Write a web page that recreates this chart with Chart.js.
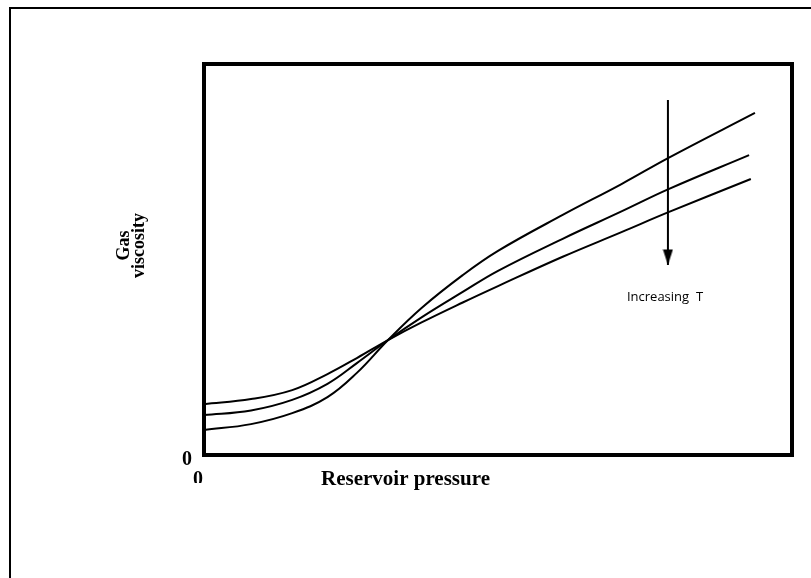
<!DOCTYPE html>
<html>
<head>
<meta charset="utf-8">
<script src="https://cdn.jsdelivr.net/npm/chart.js@4/dist/chart.umd.min.js"></script>
<style>
  html, body { margin: 0; padding: 0; background: #fff; }
  canvas { display: block; }
</style>
</head>
<body>
<canvas id="chart" width="811" height="578"></canvas>
<script>
// Reservoir pressure (arbitrary units, 0-100) shared by the three curves
const pressure = [0, 8, 15, 21, 26, 31.3, 37, 44, 50, 61, 71, 79];
// last pressure reached by each curve: high T, mid T, low T
const endPressure = [93.0, 92.7, 93.7];

// Gas viscosity (arbitrary units, 0-100) for three temperatures
const viscosityHighT = [13.0, 14.3, 16.6, 20.7, 24.8, 29.4, 33.9, 39.0, 43.2, 50.7, 57.0, 62.1, 70.6];
const viscosityMidT  = [10.2, 11.4, 14.1, 18.2, 23.5, 29.4, 35.2, 41.7, 47.1, 55.3, 62.3, 68.0, 76.7];
const viscosityLowT  = [6.4, 7.9, 10.7, 14.8, 21.0, 29.4, 37.6, 46.0, 52.2, 61.4, 69.3, 76.0, 87.5];

// Axis ticks
const xTickValues = [0];
const xTickLabels = ['0'];
const yTickValues = [0];
const yTickLabels = ['0'];

// Titles
const xTitle = 'Reservoir pressure';
const yTitle = ['Gas', 'viscosity'];

// Temperature arrow
const arrowPressure = 78.9;
const arrowFrom = 90.8;
const arrowTo = 48.6;
const arrowLabel = 'Increasing  T';
const arrowLabelPressure = 78.4;
const arrowLabelViscosity = 40.4;

function curvePoints(values, lastX) {
  return values.map((v, i) => ({ x: i < pressure.length ? pressure[i] : lastX, y: v }));
}

// Filled arrowhead; the tip sits at the centre of the image
function makeArrowHead() {
  const cv = document.createElement('canvas');
  cv.width = 11;
  cv.height = 32;
  const g = cv.getContext('2d');
  g.fillStyle = '#000';
  g.beginPath();
  g.moveTo(0.5, 0.5);
  g.lineTo(10.5, 0.5);
  g.lineTo(5.5, 16);
  g.closePath();
  g.fill();
  return cv;
}
const arrowHead = makeArrowHead();

const SERIF = '"Liberation Serif", "Times New Roman", serif';
const serifBold = (size) => ({ family: SERIF, size: size, weight: 'bold' });

const curveStyle = {
  showLine: true,
  borderColor: '#000',
  borderWidth: 2,
  pointRadius: 0,
  tension: 0.4,
  fill: false
};

// Page frame, thick plot box, vertical axis title and the arrow caption
const framePlugin = {
  id: 'frame',
  beforeDraw(chart) {
    const c = chart.ctx;
    c.save();
    c.strokeStyle = '#000';
    c.lineWidth = 2;
    c.beginPath();
    c.moveTo(10, chart.height);
    c.lineTo(10, 8);
    c.lineTo(chart.width, 8);
    c.stroke();
    c.restore();
  },
  afterDatasetsDraw(chart) {
    const c = chart.ctx;
    const { left, top, right, bottom } = chart.chartArea;
    c.save();
    c.strokeStyle = '#000';
    c.lineWidth = 4;
    c.strokeRect(left, top, right - left, bottom - top);

    const xs = chart.scales.x, ys = chart.scales.y;
    c.fillStyle = '#000';
    c.font = '13px "Open Sans", sans-serif';
    c.textAlign = 'center';
    c.textBaseline = 'middle';
    c.fillText(arrowLabel, xs.getPixelForValue(arrowLabelPressure), ys.getPixelForValue(arrowLabelViscosity));

    // two-line rotated title left of the plot
    c.translate(left - 80, (top + bottom) / 2 - 14);
    c.rotate(-Math.PI / 2);
    c.font = 'bold 18px ' + SERIF;
    yTitle.forEach((line, i) => c.fillText(line, 0, i * 15));
    c.restore();
  }
};

new Chart(document.getElementById('chart'), {
  type: 'scatter',
  data: {
    datasets: [
      Object.assign({ label: 'High T', data: curvePoints(viscosityHighT, endPressure[0]) }, curveStyle),
      Object.assign({ label: 'Mid T', data: curvePoints(viscosityMidT, endPressure[1]) }, curveStyle),
      Object.assign({ label: 'Low T', data: curvePoints(viscosityLowT, endPressure[2]) }, curveStyle),
      {
        label: 'Temperature',
        data: [{ x: arrowPressure, y: arrowFrom }, { x: arrowPressure, y: arrowTo }],
        showLine: true,
        borderColor: '#000',
        borderWidth: 2,
        pointRadius: [0, 3],
        pointStyle: (ctx) => ctx.dataIndex === 1 ? arrowHead : 'circle',
        clip: false
      }
    ]
  },
  options: {
    responsive: false,
    animation: false,
    devicePixelRatio: 1,
    layout: { padding: { left: 0, right: 0, top: 64, bottom: 85.4 } },
    plugins: {
      legend: { display: false },
      tooltip: { enabled: false },
      title: {
        display: true,
        position: 'bottom',
        text: xTitle,
        color: '#000',
        font: serifBold(21),
        padding: { top: -15.6, bottom: 0 }
      }
    },
    scales: {
      x: {
        type: 'linear',
        min: 0,
        max: 100,
        grid: { display: false, drawTicks: false },
        border: { display: false },
        afterBuildTicks: (s) => { s.ticks = xTickValues.map(v => ({ value: v })); },
        afterFit: (s) => { s.height = 28; },
        ticks: {
          color: '#000',
          font: serifBold(20),
          padding: 13,
          labelOffset: -6,
          maxRotation: 0,
          autoSkip: false,
          callback: (v) => { const i = xTickValues.indexOf(v); return i >= 0 ? xTickLabels[i] : ''; }
        }
      },
      y: {
        type: 'linear',
        min: 0,
        max: 100,
        grid: { display: false, drawTicks: false },
        border: { display: false },
        afterBuildTicks: (s) => { s.ticks = yTickValues.map(v => ({ value: v })); },
        afterFit: (s) => { s.width = 204; },
        ticks: {
          color: '#000',
          font: serifBold(20),
          padding: 12,
          labelOffset: 5,
          callback: (v) => { const i = yTickValues.indexOf(v); return i >= 0 ? yTickLabels[i] : ''; }
        }
      },
      yRight: {
        type: 'linear',
        position: 'right',
        display: true,
        grid: { display: false, drawTicks: false },
        border: { display: false },
        ticks: { display: false },
        afterFit: (s) => { s.width = 19; }
      }
    }
  },
  plugins: [framePlugin]
});
</script>
</body>
</html>
